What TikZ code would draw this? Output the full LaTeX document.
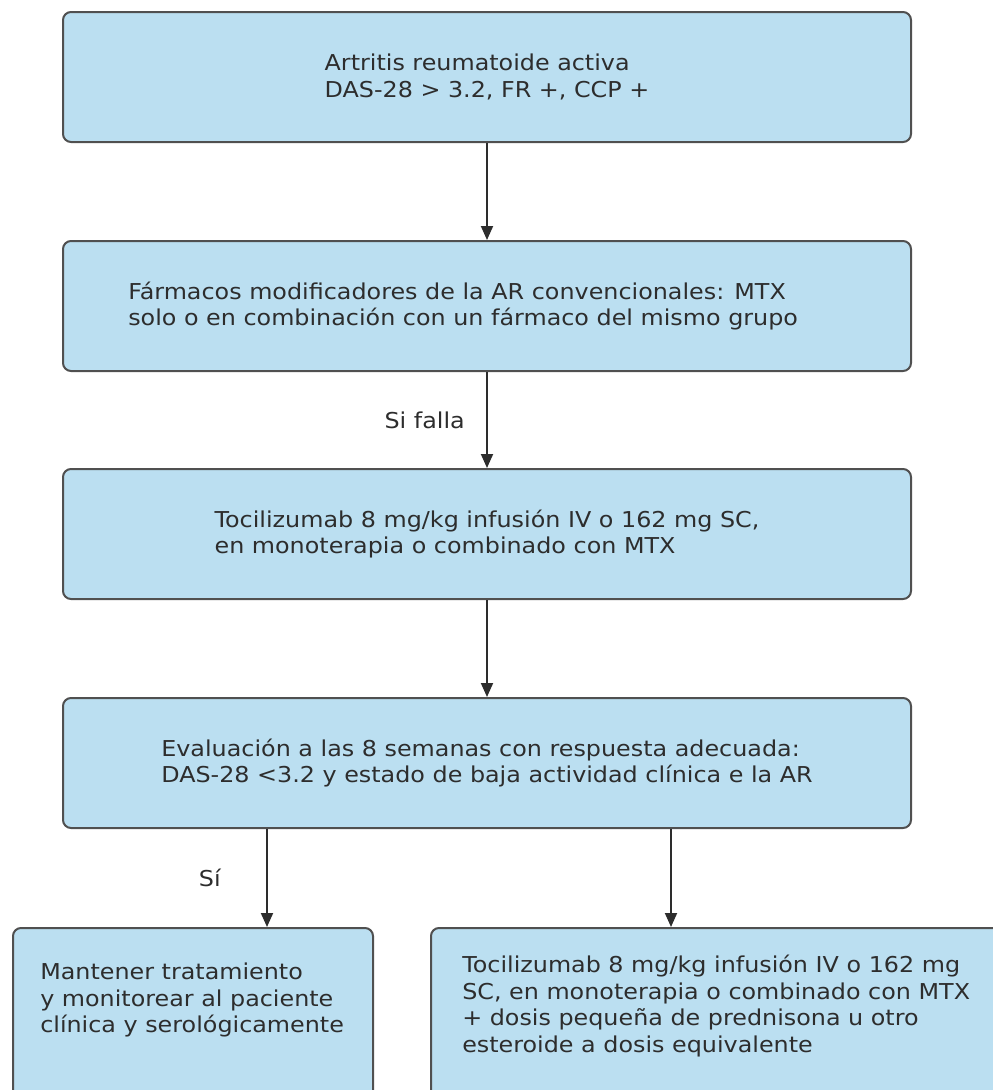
\documentclass[tikz,border=0pt]{standalone}
\usepackage{fontspec}
\setmainfont[FakeStretch=1.09]{DejaVu Sans}
\usetikzlibrary{arrows.meta}
\definecolor{boxfill}{RGB}{187,223,241}
\definecolor{boxline}{RGB}{80,80,80}
\definecolor{txt}{RGB}{45,45,45}
\begin{document}
\begin{tikzpicture}[x=0.75pt,y=-0.75pt,
  flowbox/.style={draw=boxline, line width=1.5pt, fill=boxfill, rounded corners=6pt, minimum width=636pt, minimum height=97.5pt, inner sep=0pt, align=left, text=txt, font=\fontsize{16.4pt}{20.2pt}\selectfont},
  lowbox/.style={draw=boxline, line width=1.5pt, fill=boxfill, rounded corners=6pt, inner sep=0pt, anchor=north west},
  boxtext/.style={align=left, text=txt, inner sep=0pt, anchor=west, font=\fontsize{16.4pt}{20.2pt}\selectfont},
  lbl/.style={text=txt, inner sep=0pt, font=\fontsize{16.4pt}{20.2pt}\selectfont},
  arr/.style={draw=txt, line width=1.4pt, -{Triangle[length=10.5pt,width=9pt]}}]
\useasboundingbox (0,0) rectangle (993,1090);
\clip (0,0) rectangle (993,1090);
\node[flowbox] (b1) at (487,77) {Artritis reumatoide activa\\DAS-28 > 3.2, FR +, CCP +};
\node[flowbox] (b2) at (487,306) {};
\node[boxtext] (t2) at (128,306) {Fármacos modificadores de la AR convencionales: MTX\\solo o en combinación con un fármaco del mismo grupo};
\node[flowbox] (b3) at (487,534) {Tocilizumab 8 mg/kg infusión IV o 162 mg SC,\\en monoterapia o combinado con MTX};
\node[flowbox] (b4) at (487,763) {Evaluación a las 8 semanas con respuesta adecuada:\\DAS-28 <3.2 y estado de baja actividad clínica e la AR};
\node[lowbox, minimum width=270pt, minimum height=150pt] (b5) at (12,927) {};
\node[boxtext] (t5) at (40,1000) {Mantener tratamiento\\y monitorear al paciente\\clínica y serológicamente};
\node[lowbox, minimum width=450pt, minimum height=150pt] (b6) at (430,927) {};
\node[boxtext] (t6) at (462,1006) {Tocilizumab 8 mg/kg infusión IV o 162 mg\\SC, en monoterapia o combinado con MTX\\+ dosis pequeña de prednisona u otro\\esteroide a dosis equivalente};
\draw[arr] (b1.south) -- (b2.north);
\draw[arr] (b2.south) -- node[lbl, left=16pt] {Si falla} (b3.north);
\draw[arr] (b3.south) -- (b4.north);
\coordinate (c5) at (267,927);
\coordinate (c6) at (671,927);
\draw[arr] (b4.south -| c5) -- node[lbl, left=34pt] {Sí} (c5);
\draw[arr] (b4.south -| c6) -- (c6);
\end{tikzpicture}
\end{document}
